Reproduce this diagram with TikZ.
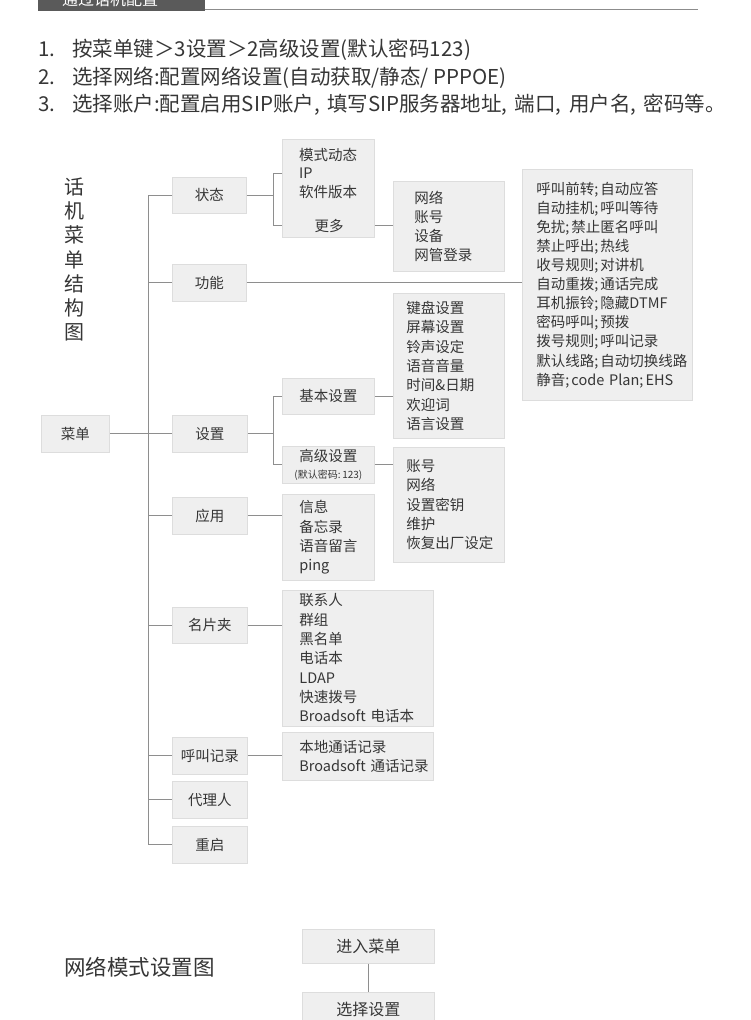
\documentclass[tikz,border=0pt]{standalone}
\usepackage{fontspec}
\setmainfont{Noto Sans CJK SC}
\usetikzlibrary{positioning}

\definecolor{boxfill}{HTML}{EFEFEF}
\definecolor{boxline}{HTML}{DDDDDD}
\definecolor{wirecol}{HTML}{8E8E8E}
\definecolor{ink}{HTML}{363636}
\definecolor{tabgray}{HTML}{5A5A5A}

\newcommand{\sepc}{,\hspace{0.36em}}
\newcommand{\sems}{;\kern0.14em}

\tikzset{
  menubox/.style={draw=boxline, fill=boxfill, line width=0.8pt, inner sep=0pt, anchor=north west,
    font=\fontsize{14.5}{19.3}\selectfont, text=ink},
  listbox/.style={menubox, align=left, inner ysep=2pt},
  itemtext/.style={inner sep=0pt, font=\fontsize{14.5}{19.3}\selectfont, text=ink},
  wire/.style={draw=wirecol, line width=1pt},
  listline/.style={anchor=west, inner sep=0pt, font=\fontsize{20.5}{24}\selectfont, text=ink},
}

\begin{document}
\begin{tikzpicture}[x=1pt, y=-1pt]
    \useasboundingbox (0,0) rectangle (750,1020);
    \fill[white] (0,0) rectangle (750,1020);

    % header tab
    \begin{scope}
        \clip (38,0) rectangle (205,11);
        \fill[tabgray] (38,0) rectangle (205,11);
        \node[anchor=base west, inner sep=0pt, text=white, font=\fontsize{16}{16}\selectfont] (tabtitle) at (62,5) {通过话机配置};
    \end{scope}
    \draw[draw=gray!90, line width=1.5pt] (205,9.5) -- (698,9.5);

    \node[listline] (item1) at (38,50) {\makebox[34pt][l]{1.}按菜单键＞3设置＞2高级设置(默认密码123)};
    \node[listline] (item2) at (38,78) {\makebox[34pt][l]{2.}选择网络:配置网络设置(自动获取/静态/ PPPOE)};
    \node[listline] (item3) at (38,105) {\makebox[34pt][l]{3.}选择账户:配置启用SIP账户\sepc 填写SIP服务器地址\sepc 端口\sepc 用户名\sepc 密码等。};

    \node[inner sep=0pt, align=center, text=ink, font=\fontsize{20}{24.2}\selectfont] (treetitle) at (74,259.5) {话\\机\\菜\\单\\结\\构\\图};

    % first level
    \node[menubox, minimum width=68, minimum height=37] (menu) at (41,415) {菜单};
    \node[menubox, minimum width=74, minimum height=36] (status) at (172,177) {状态};
    \node[menubox, minimum width=74, minimum height=37] (func) at (172,264) {功能};
    \node[menubox, minimum width=75, minimum height=37] (setup) at (172,415) {设置};
    \node[menubox, minimum width=75, minimum height=37] (apps) at (172,497) {应用};
    \node[menubox, minimum width=75, minimum height=36] (cards) at (172,607) {名片夹};
    \node[menubox, minimum width=75, minimum height=37] (calllog) at (172,737) {呼叫记录};
    \node[menubox, minimum width=75, minimum height=37] (proxy) at (172,781) {代理人};
    \node[menubox, minimum width=75, minimum height=37] (reboot) at (172,826) {重启};

    % second level
    \node[menubox, minimum width=92, minimum height=98] (stbox) at (282,139) {};
    \node[itemtext, anchor=base west] (mode) at (299,160.5) {模式动态};
    \node[itemtext, anchor=base west] (ip) at (299,178.5) {IP};
    \node[itemtext, anchor=base west] (ver) at (299,197.5) {软件版本};
    \node[itemtext, anchor=base] (more) at (329,231.5) {更多};

    \node[listbox, minimum width=111, minimum height=90, inner xsep=21, text width=69] (netbox) at (393,181)
        {网络\\账号\\设备\\网管登录};
    \node[listbox, minimum width=170, minimum height=231, inner xsep=14, text width=142,
          font=\fontsize{14.5}{19.1}\selectfont] (featbox) at (522,169)
        {呼叫前转\sems 自动应答\\自动挂机\sems 呼叫等待\\免扰\sems 禁止匿名呼叫\\禁止呼出\sems 热线\\收号规则\sems 对讲机\\自动重拨\sems 通话完成\\耳机振铃\sems 隐藏DTMF\\密码呼叫\sems 预拨\\拨号规则\sems 呼叫记录\\默认线路\sems 自动切换线路\\静音\sems code~Plan\sems EHS};

    \node[menubox, minimum width=92, minimum height=36] (basic) at (282,378) {基本设置};
    \node[menubox, minimum width=92, minimum height=37, align=center] (adv) at (282,446)
        {高级设置\\[-3pt]{\fontsize{10}{12}\selectfont(默认密码:\,123)}};
    \node[listbox, minimum width=111, minimum height=145, inner xsep=13, text width=85] (basiclist) at (393,293)
        {键盘设置\\屏幕设置\\铃声设定\\语音音量\\时间\&日期\\欢迎词\\语言设置};
    \node[listbox, minimum width=111, minimum height=115, inner xsep=13, text width=85] (advlist) at (393,447)
        {账号\\网络\\设置密钥\\维护\\恢复出厂设定};
    \node[listbox, minimum width=92, minimum height=86, inner xsep=17, text width=58] (appslist) at (282,494)
        {信息\\备忘录\\语音留言\\ping};
    \node[listbox, minimum width=151, minimum height=136, inner xsep=17, text width=117] (cardlist) at (282,590)
        {联系人\\群组\\黑名单\\电话本\\LDAP\\快速拨号\\Broadsoft~电话本};
    \node[listbox, minimum width=151, minimum height=48, inner xsep=17, text width=117] (loglist) at (282,732)
        {本地通话记录\\Broadsoft~通话记录};

    % connectors
    \coordinate (trunk) at (148,0);
    \coordinate (fork) at (273,0);
    \draw[wire] (menu.east) -- (menu.east -| setup.west);
    \draw[wire] (status.west) -- (status.west -| trunk) -- (reboot.west -| trunk) -- (reboot.west);
    \foreach \n in {func,setup,apps,cards,calllog,proxy}
        \draw[wire] (\n.west -| trunk) -- (\n.west);

    \draw[wire] (status.east) -- (status.east -| fork);
    \draw[wire] (stbox.west |- ip) -- (fork |- ip) -- (fork |- more) -- (stbox.west |- more);
    \draw[wire] (stbox.east |- more) -- (netbox.west |- more);
    \draw[wire] (func.east) -- (func.east -| featbox.west);

    \draw[wire] (setup.east) -- (setup.east -| fork);
    \draw[wire] (basic.west) -- (basic.west -| fork) -- (adv.west -| fork) -- (adv.west);
    \draw[wire] (basic.east) -- (basic.east -| basiclist.west);
    \draw[wire] (adv.east) -- (adv.east -| advlist.west);
    \draw[wire] (apps.east) -- (apps.east -| appslist.west);
    \draw[wire] (cards.east) -- (cards.east -| cardlist.west);
    \draw[wire] (calllog.east) -- (calllog.east -| loglist.west);

    % network mode chart
    \node[anchor=west, inner sep=0pt, text=ink, font=\fontsize{21.5}{24}\selectfont] (nettitle) at (64,967) {网络模式设置图};
    \node[menubox, font=\fontsize{16}{19}\selectfont, minimum width=132, minimum height=34] (enter) at (302,929) {进入菜单};
    \node[menubox, font=\fontsize{16}{19}\selectfont, minimum width=132, minimum height=34] (choose) at (302,992) {选择设置};
    \draw[wire] (enter.south) -- (choose.north);
\end{tikzpicture}
\end{document}
